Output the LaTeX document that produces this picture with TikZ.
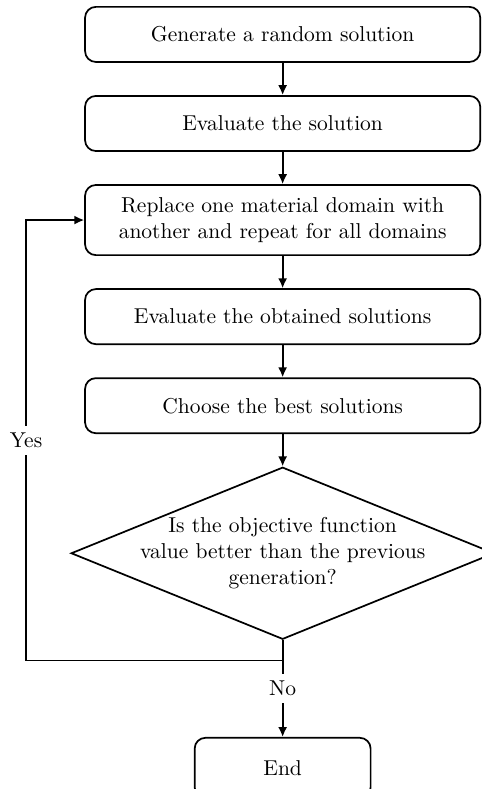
\documentclass[tikz,border=0pt]{standalone}
\usepackage{amsmath}
\usepackage{tikz}
\usetikzlibrary{shapes,arrows,arrows.meta,positioning}

\begin{document}
\begin{tikzpicture}[->,>={Latex[length=4.6pt,width=4.2pt]},thick,node distance=15pt]
\tikzstyle{process} = [rectangle, draw, rounded corners=5pt, minimum width=183.7pt, minimum height=25.6pt, align=center]
\tikzstyle{decision} = [diamond, draw, aspect=2.46, inner sep=-3pt, minimum width=196.7pt, minimum height=80pt, align=center]
\tikzstyle{terminal} = [rectangle, draw, rounded corners=5pt, minimum width=81.8pt, minimum height=28pt]
\node[process] (gen) {Generate a random solution};
\useasboundingbox (-131.4pt,16pt) rectangle (92.3pt,-350.8pt);
\node[process][below=of gen] (eval) {Evaluate the solution};
\node[process, minimum height=32.6pt][below=of eval] (repl) {Replace one material domain with\\another and repeat for all domains};
\node[process][below=of repl] (evalall) {Evaluate the obtained solutions};
\node[process][below=of evalall] (best) {Choose the best solutions};
\node[decision][below=of best] (dec) {Is the objective function\\value better than the previous\\generation?};
\node[terminal][below=45pt of dec] (end) {End};
\coordinate[below=9.5pt of dec.south] (turn);
\coordinate[left=119.3pt of turn] (loopc);
\path (gen) edge (eval)
      (eval) edge (repl)
      (repl) edge (evalall)
      (evalall) edge (best)
      (best) edge (dec)
      (dec) edge node[fill=white]{No} (end);
\draw (turn) -- (loopc) |- node[pos=0.25, fill=white]{Yes} (repl.west);
\end{tikzpicture}
\end{document}
